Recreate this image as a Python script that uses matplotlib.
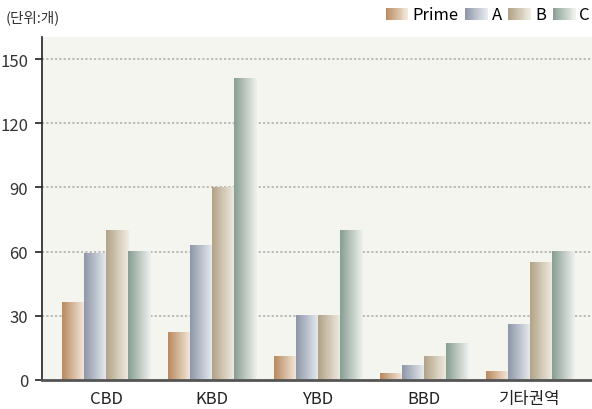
import matplotlib

matplotlib.use("Agg")
import matplotlib.pyplot as plt
import numpy as np
from matplotlib.colors import LinearSegmentedColormap, to_rgb
from matplotlib.legend_handler import HandlerBase
from matplotlib.patches import Rectangle

plt.rcParams["font.family"] = ["Noto Sans CJK KR", "DejaVu Sans"]

categories = ["CBD", "KBD", "YBD", "BBD", "기타권역"]
series_names = ["Prime", "A", "B", "C"]
prime = [36, 22, 11, 3, 4]
grade_a = [59, 63, 30, 7, 26]
grade_b = [70, 90, 30, 11, 55]
grade_c = [60, 141, 70, 17, 60]
y_ticks = [0, 30, 60, 90, 120, 150]
unit_label = "(단위:개)"

series_values = [prime, grade_a, grade_b, grade_c]
gradients = [
    ("#b98a60", "#f4e9de"),
    ("#8e97a8", "#e9ecf0"),
    ("#b1a387", "#f1ece3"),
    ("#899e92", "#eff1ee"),
]
BG = "#f5f5f0"


def make_cmap(pair):
    return LinearSegmentedColormap.from_list("g", [to_rgb(pair[0]), to_rgb(pair[1])])


class GradientHandler(HandlerBase):
    def __init__(self, pair):
        super().__init__()
        self.pair = pair

    def create_artists(self, legend, orig_handle, xdescent, ydescent, width, height, fontsize, trans):
        n = 24
        c0 = np.array(to_rgb(self.pair[0]))
        c1 = np.array(to_rgb(self.pair[1]))
        artists = []
        for i in range(n):
            t = i / (n - 1)
            artists.append(Rectangle((-xdescent + width * i / n, -ydescent), width / n + 0.3, height,
                                     facecolor=c0 + (c1 - c0) * t, edgecolor="none", transform=trans))
        return artists


fig = plt.figure(figsize=(5.92, 4.10), dpi=100)
ax = fig.add_axes([42 / 592, 29 / 410, 550 / 592, 343 / 410])
ax.set_facecolor(BG)

bar_w = 0.208
x = np.arange(len(categories))
for k, values in enumerate(series_values):
    cmap = make_cmap(gradients[k])
    grad = np.linspace(0, 1, 64).reshape(1, -1)
    for i, v in enumerate(values):
        left = x[i] + (k - 2) * bar_w
        ax.imshow(grad, cmap=cmap, aspect="auto", interpolation="bilinear",
                  extent=(left, left + bar_w, 0, v), zorder=3)

ax.set_xlim(-0.605, 4.585)
ax.set_ylim(0, 160.3)
ax.set_yticks(y_ticks)
ax.set_yticklabels([str(t) for t in y_ticks], fontsize=12, color="#333333")
ax.set_xticks(x)
ax.set_xticklabels(categories, fontsize=12, color="#222222")
ax.yaxis.grid(True, linestyle=(0, (1.2, 1.2)), color="#b5b5b5", linewidth=1.3, zorder=1)
ax.set_axisbelow(True)
ax.tick_params(axis="y", length=5, width=1.2, color="#222222", pad=5)
ax.tick_params(axis="x", length=0, pad=7)
for side in ["top", "right"]:
    ax.spines[side].set_visible(False)
ax.spines["left"].set_color("#222222")
ax.spines["left"].set_linewidth(1.2)
ax.spines["bottom"].set_color("#555555")
ax.spines["bottom"].set_linewidth(2)
ax.spines["bottom"].set_zorder(5)

fig.text(6 / 592, 1 - 18 / 410, unit_label, fontsize=10.5, color="#333333", va="center", ha="left")

handles = [Rectangle((0, 0), 1, 1) for _ in series_names]
fig.legend(handles, series_names, handler_map={h: GradientHandler(g) for h, g in zip(handles, gradients)},
           loc="center right", bbox_to_anchor=(590 / 592, 1 - 16 / 410),
           ncol=4, frameon=False, fontsize=12, handlelength=1.35, handleheight=0.75,
           handletextpad=0.25, columnspacing=0.4, borderaxespad=0, borderpad=0)

fig.savefig("out.png", dpi=100)
